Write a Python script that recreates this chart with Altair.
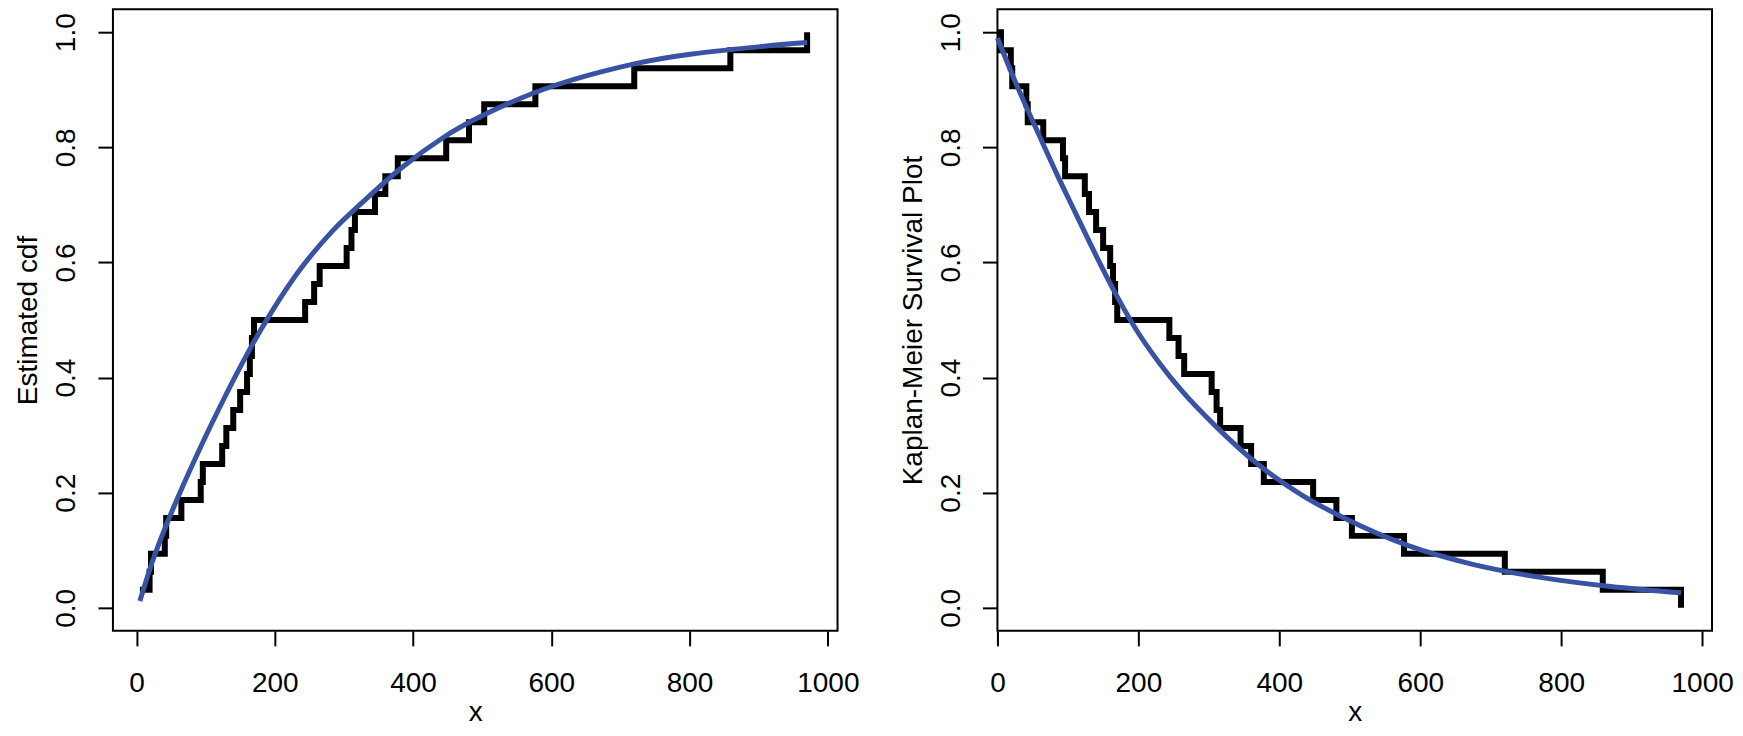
import altair as alt
import pandas as pd

# observed times (32 observations), read from the step positions
obs_x = [5, 19, 21, 41, 43, 65, 93, 96, 124, 130, 140, 150, 160, 164, 167, 170,
         244, 257, 265, 304, 311, 316, 345, 360, 378, 448, 481, 503, 577, 720, 859, 970]

# fitted cdf (blue, left panel)
cdf_fit_x = [5, 23, 47, 71, 95, 119, 143, 167, 196, 235, 283, 330, 384, 445, 555, 720, 902, 970]
cdf_fit_y = [0.012, 0.080, 0.155, 0.222, 0.285, 0.345, 0.402, 0.456, 0.515, 0.585, 0.654, 0.708,
             0.765, 0.818, 0.885, 0.945, 0.975, 0.982]

# fitted survival (blue, right panel)
surv_fit_x = [0, 26, 54, 83, 110, 140, 168, 195, 230, 263, 311, 371, 432, 492, 583, 673, 775, 870, 970]
surv_fit_y = [0.99, 0.912, 0.835, 0.757, 0.688, 0.612, 0.545, 0.487, 0.425, 0.375, 0.314, 0.248,
              0.196, 0.156, 0.108, 0.076, 0.052, 0.037, 0.026]

x_ticks = [0, 200, 400, 600, 800, 1000]
y_ticks = [0.0, 0.2, 0.4, 0.6, 0.8, 1.0]

FONT = "Liberation Sans"
FS = 28
BLUE = "#3953A4"

def x_axis():
    return alt.Axis(values=x_ticks, format="d", title="x", grid=False, domain=False,
                    tickSize=15, tickWidth=2, tickColor="black",
                    labelFont=FONT, labelFontSize=FS, labelColor="black",
                    labelPadding=24, labelFlush=False, labelOverlap=False,
                    titleFont=FONT, titleFontSize=FS, titleFontWeight="normal",
                    titleColor="black", minExtent=58, maxExtent=58, titlePadding=10)

def y_axis(title):
    return alt.Axis(values=y_ticks, format=".1f", title=title, grid=False, domain=False,
                    tickSize=15, tickWidth=2, tickColor="black",
                    labelFont=FONT, labelFontSize=FS, labelColor="black",
                    labelAngle=270, labelAlign="center", labelBaseline="alphabetic",
                    labelPadding=23, labelFlush=False, labelOverlap=False,
                    titleFont=FONT, titleFontSize=FS, titleFontWeight="normal",
                    titleColor="black", minExtent=60, maxExtent=60, titlePadding=10)

ys = alt.Scale(domain=[-0.04, 1.04], nice=False, zero=False)
xs_left = alt.Scale(domain=[-34, 1014], nice=False, zero=False)
xs_right = alt.Scale(domain=[0, 1014], nice=False, zero=False)

# ---- left panel: empirical cdf + fitted cdf
left_df = pd.DataFrame({"x": obs_x, "event": [1] * len(obs_x)})
left_steps = (
    alt.Chart(left_df)
    .transform_window(cum="sum(event)", sort=[alt.SortField("x")])
    .transform_joinaggregate(total="sum(event)")
    .transform_calculate(y="datum.cum / datum.total")
    .mark_line(interpolate="step-after", color="black", strokeWidth=6, strokeJoin="miter")
    .encode(x=alt.X("x:Q", scale=xs_left, axis=x_axis()),
            y=alt.Y("y:Q", scale=ys, axis=y_axis("Estimated cdf")),
            order="x:Q")
)
left_fit = (
    alt.Chart(pd.DataFrame({"x": cdf_fit_x, "y": cdf_fit_y}))
    .mark_line(interpolate="monotone", color=BLUE, strokeWidth=5)
    .encode(x=alt.X("x:Q", scale=xs_left), y=alt.Y("y:Q", scale=ys), order="x:Q")
)
left = alt.layer(left_steps, left_fit).properties(width=725, height=622)

# ---- right panel: Kaplan-Meier + fitted survival
right_df = pd.DataFrame({"x": [0] + obs_x, "event": [0] + [1] * len(obs_x)})
right_steps = (
    alt.Chart(right_df)
    .transform_window(cum="sum(event)", sort=[alt.SortField("x")])
    .transform_joinaggregate(total="sum(event)")
    .transform_calculate(y="1 - datum.cum / datum.total")
    .mark_line(interpolate="step-after", color="black", strokeWidth=6, strokeJoin="miter")
    .encode(x=alt.X("x:Q", scale=xs_right, axis=x_axis()),
            y=alt.Y("y:Q", scale=ys, axis=y_axis("Kaplan-Meier Survival Plot")),
            order="x:Q")
)
right_fit = (
    alt.Chart(pd.DataFrame({"x": surv_fit_x, "y": surv_fit_y}))
    .mark_line(interpolate="monotone", color=BLUE, strokeWidth=5)
    .encode(x=alt.X("x:Q", scale=xs_right), y=alt.Y("y:Q", scale=ys), order="x:Q")
)
right = alt.layer(right_steps, right_fit).properties(width=715, height=622)

chart = (
    alt.hconcat(left, right, spacing=38)
    .properties(padding={"left": 6, "top": 0, "right": 0, "bottom": 0}, background="white")
    .configure_view(stroke="black", strokeWidth=2)
)

chart.save("out.html", embed_options={"renderer": "svg", "actions": False})
